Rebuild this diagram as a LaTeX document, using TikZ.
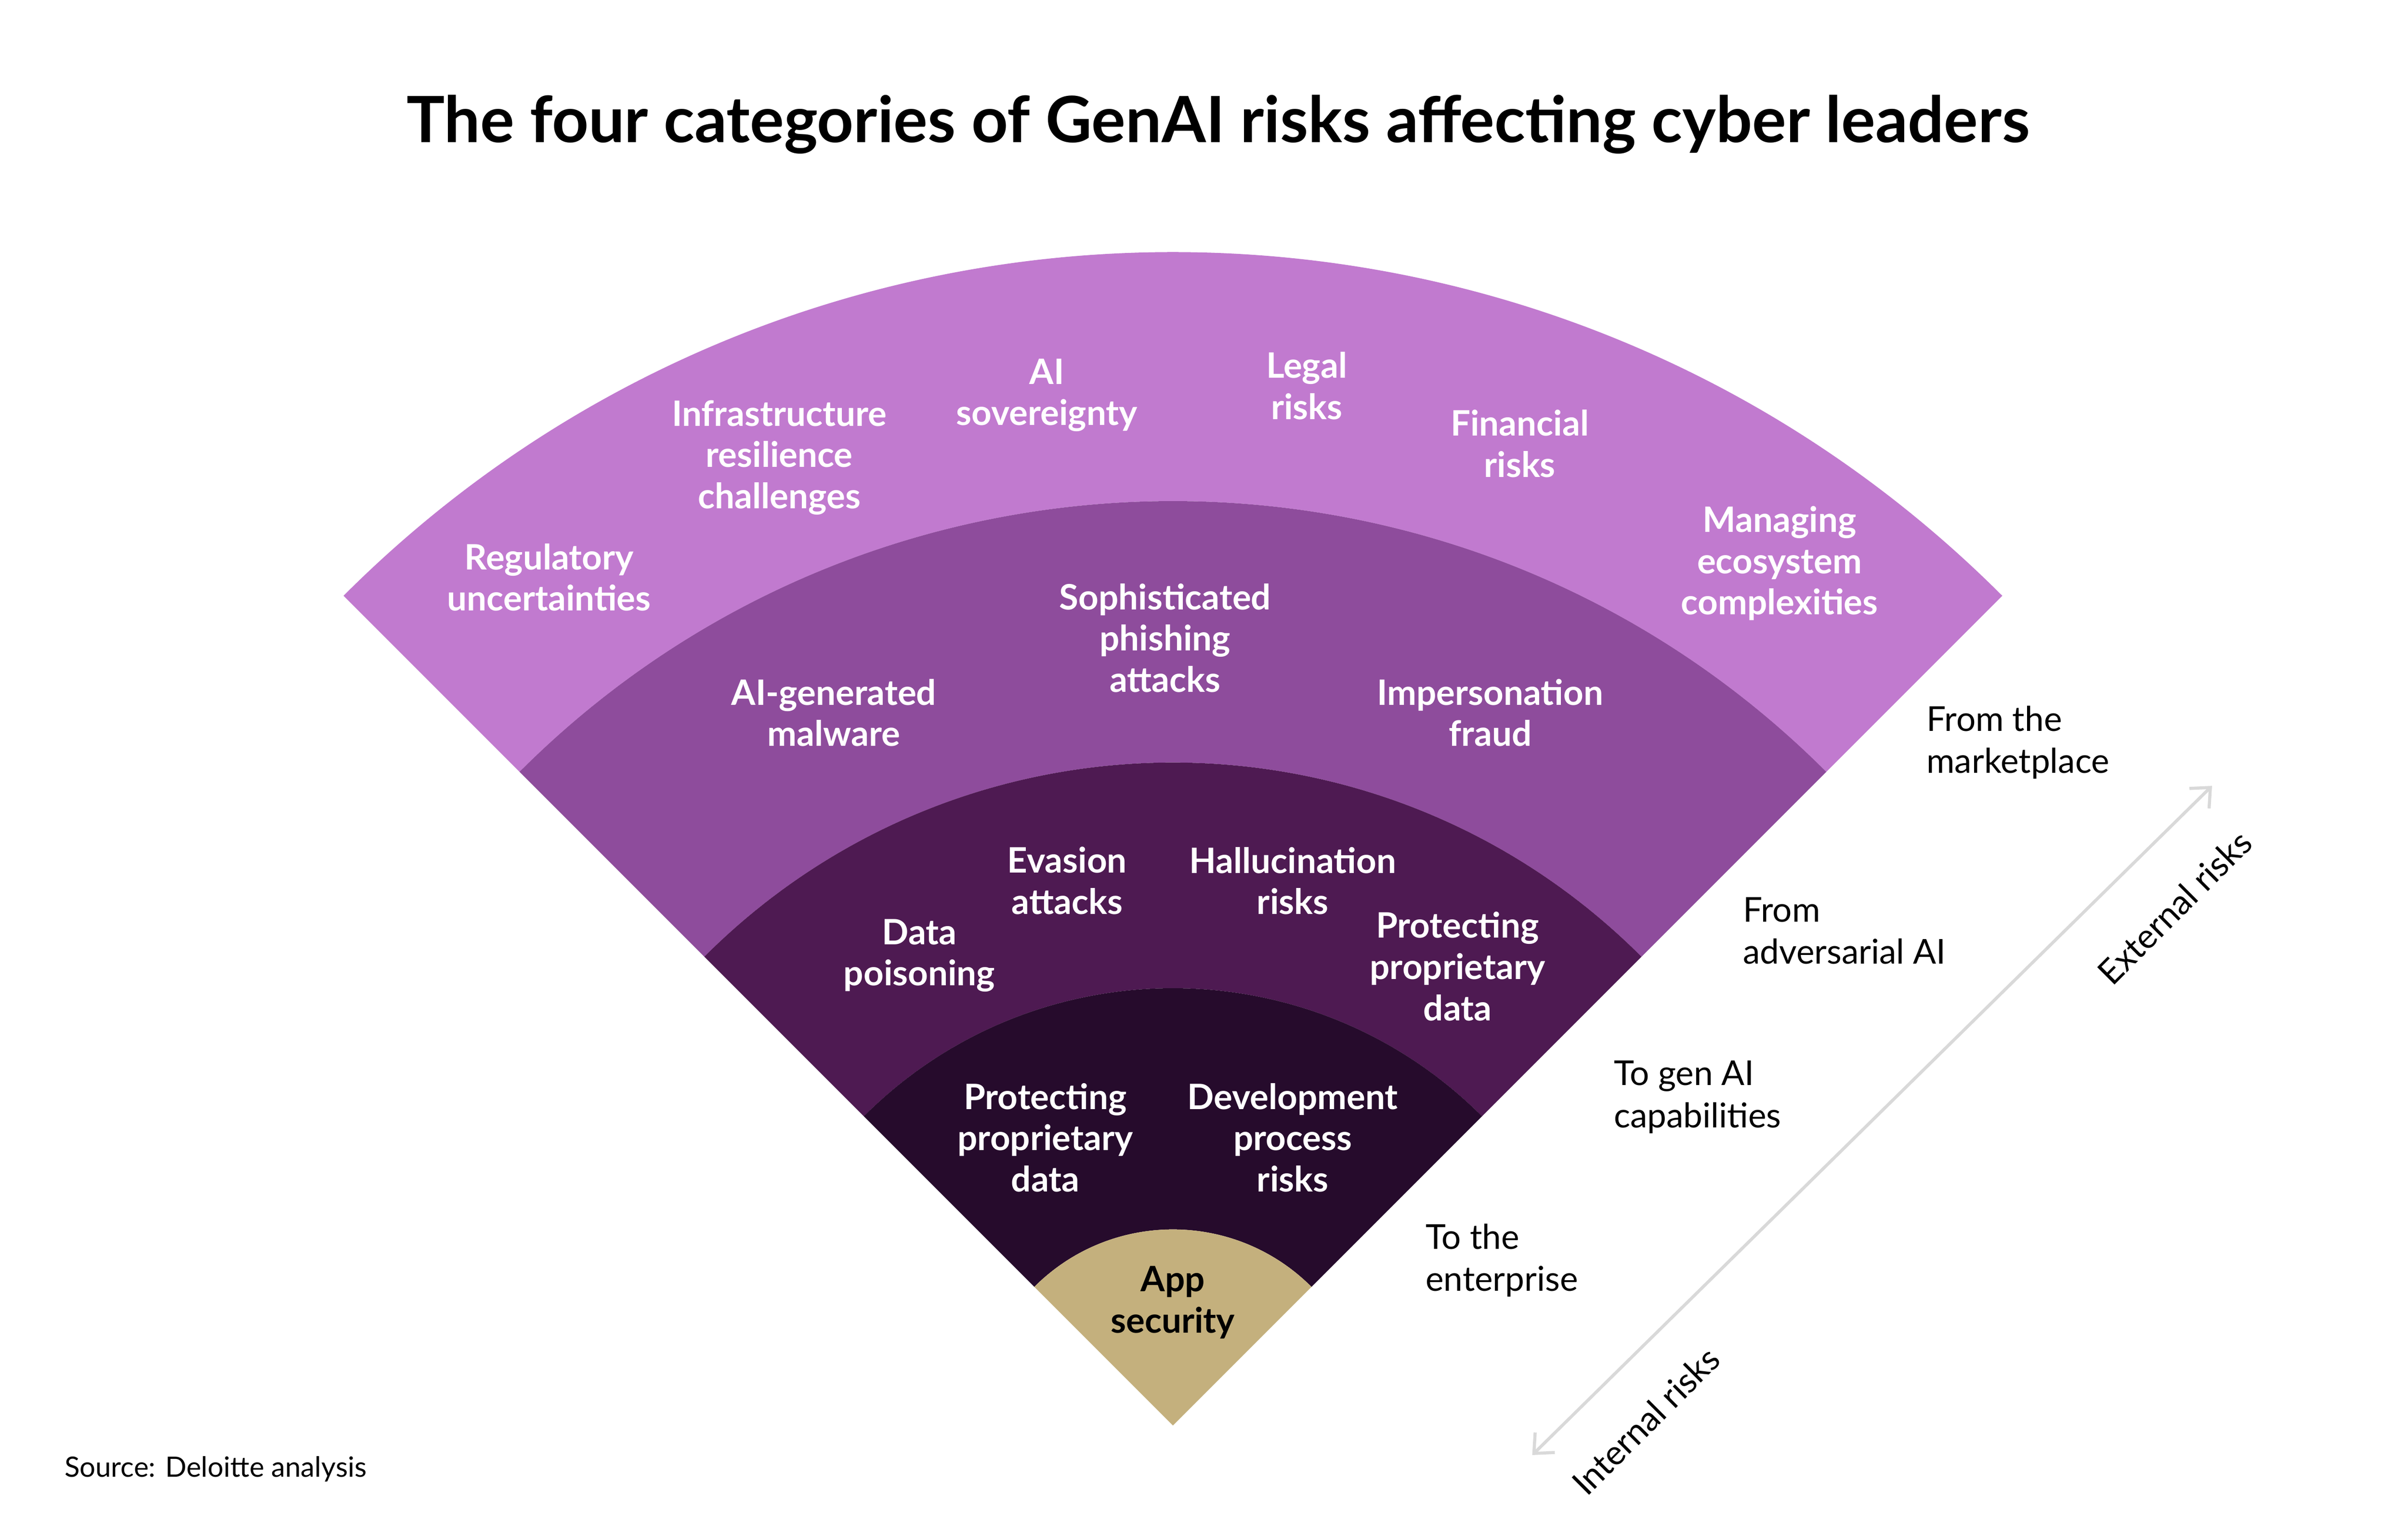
\documentclass[tikz,border=0pt]{standalone}
\usepackage{fontspec}
\setmainfont{Lato}
\usetikzlibrary{calc,arrows.meta}
\definecolor{cA}{HTML}{C17ACF}
\definecolor{cB}{HTML}{8E4C9C}
\definecolor{cC}{HTML}{4E1A52}
\definecolor{cD}{HTML}{260B2C}
\definecolor{cE}{HTML}{C4B07D}
\definecolor{ar}{HTML}{D9D9D9}
\tikzset{
 lab/.style={text=white,font=\fontsize{22.5}{26.5}\selectfont\bfseries,align=center},
 side/.style={anchor=west,font=\fontsize{22}{27}\selectfont,align=left},
}
\newcommand{\sect}[3]{\fill[#1] ($(A)+(45:#2)$) arc[start angle=45,end angle=135,radius=#2] -- ($(A)+(135:#3)$) arc[start angle=135,end angle=45,radius=#3] -- cycle;}
\begin{document}
\begin{tikzpicture}[x=1pt,y=1pt]
\useasboundingbox[fill=white] (0,0) rectangle (1548,987);
\coordinate (A) at (754,71);
\sect{cA}{754}{594}
\sect{cB}{594}{426}
\sect{cC}{426}{281}
\sect{cD}{281}{126}
\fill[cE] (A) -- ($(A)+(45:126)$) arc[start angle=45,end angle=135,radius=126] -- cycle;
\node[font=\fontsize{41}{44}\selectfont\bfseries] (t) at (783,907) {The four categories of GenAI risks affecting cyber leaders};
\node[lab] (o1) at (353,616) {Regulatory\\uncertainties};
\node[lab] (o2) at (501,693) {Infrastructure\\resilience\\challenges};
\node[lab] (o3) at (673,733) {AI\\sovereignty};
\node[lab] (o4) at (840,739) {Legal\\risks};
\node[lab] (o5) at (977,702) {Financial\\risks};
\node[lab] (o6) at (1144,625) {Managing\\ecosystem\\complexities};
\node[lab] (b1) at (536,529) {AI-generated\\malware};
\node[lab] (b2) at (749,577) {Sophisticated\\phishing\\attacks};
\node[lab] (b3) at (958,529) {Impersonation\\fraud};
\node[lab] (c1) at (591,373) {Data\\poisoning};
\node[lab] (c2) at (686,421) {Evasion\\attacks};
\node[lab] (c3) at (831,421) {Hallucination\\risks};
\node[lab] (c4) at (937,366) {Protecting\\proprietary\\data};
\node[lab] (d1) at (672,256) {Protecting\\proprietary\\data};
\node[lab] (d2) at (831,256) {Development\\process\\risks};
\node[lab,text=black] (e1) at (754,150) {App\\security};
\node[side] (s1) at (1235,510) {From the\\marketplace};
\node[side] (s2) at (1117,389) {From\\adversarial AI};
\node[side] (s3) at (1034,282) {To gen AI\\capabilities};
\node[side] (s4) at (913,177) {To the\\enterprise};
\node[anchor=west,font=\fontsize{18}{20}\selectfont] (src) at (38,43) {Source: Deloitte analysis};
\coordinate (p1) at (985,52);
\coordinate (p2) at (1422,482);
\draw[ar,line width=2pt,{Straight Barb[length=10pt,width=18pt]}-{Straight Barb[length=10pt,width=18pt]}] (p1) -- (p2);
\node[rotate=45,font=\fontsize{22}{26}\selectfont] (ext) at (1398,404) {External risks};
\node[rotate=45,font=\fontsize{22}{26}\selectfont] (int) at (1058,74) {Internal risks};
\end{tikzpicture}
\end{document}
